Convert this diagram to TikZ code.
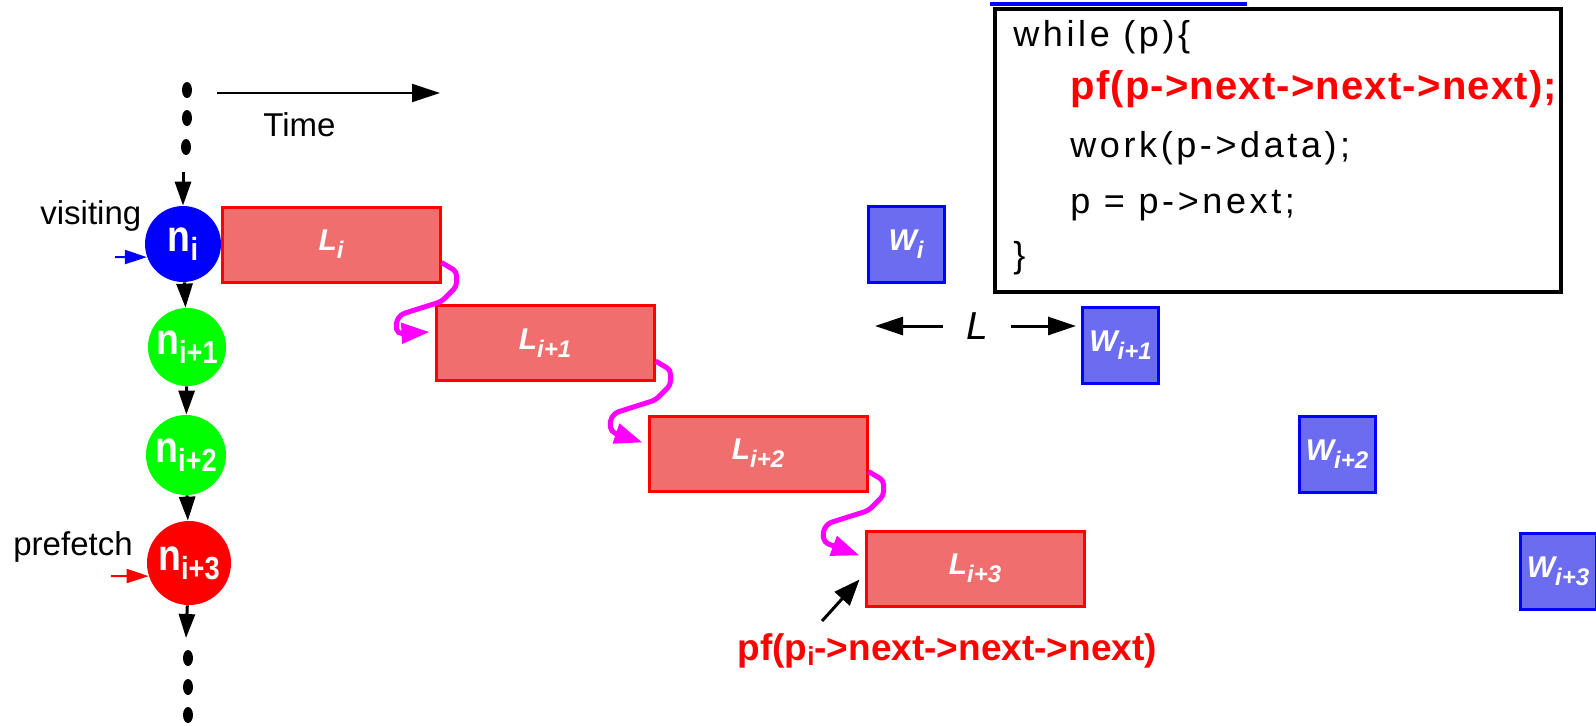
\documentclass[tikz,border=0pt]{standalone}
\usepackage{fontspec}
\setmainfont{Liberation Sans}
\newfontfamily\condfont[FakeStretch=0.85]{Liberation Sans}
\newfontfamily\codefont[LetterSpace=10]{Liberation Sans}
\newfontfamily\codeboldfont[LetterSpace=3]{Liberation Sans}
\usetikzlibrary{arrows.meta,calc}

\definecolor{lfill}{RGB}{240,110,110}
\definecolor{wfill}{RGB}{108,108,240}
\definecolor{squigcol}{RGB}{255,0,255}

% list node label n_k
\newcommand\nlab[1]{{\condfont\bfseries\fontsize{22pt}{22pt}\selectfont n\raisebox{-4.5pt}{\fontsize{16pt}{16pt}\selectfont #1}}}
% bar label L_k / W_k
\newcommand\boxlab[2]{{\bfseries\itshape\fontsize{15pt}{15pt}\selectfont #1\raisebox{-4pt}{\fontsize{12pt}{12pt}\selectfont #2}}}

\begin{document}
\begin{tikzpicture}[x=0.5pt,y=-0.5pt,
  lbl/.style={font=\fontsize{16.5pt}{18pt}\selectfont, inner sep=0, anchor=base west},
  codeline/.style={inner sep=0, anchor=base west},
  listnode/.style={circle, inner sep=0, text=white},
  latbox/.style={rectangle, draw=red, line width=1.5pt, fill=lfill,
    minimum width=109pt, minimum height=37.5pt, inner sep=0, text=white},
  workbox/.style={rectangle, draw=blue, line width=1.5pt, fill=wfill,
    minimum width=38pt, minimum height=38pt, inner sep=0, text=white},
  chainarrow/.style={line width=1.5pt, -{Triangle[length=12pt,width=8pt]}},
  timearrow/.style={line width=1pt, -{Triangle[length=14pt,width=9pt]}},
  pointarrow/.style={line width=1pt, -{Triangle[length=11pt,width=7pt]}},
  spanarrow/.style={line width=1.5pt, -{Triangle[length=14pt,width=9pt]}},
  callarrow/.style={line width=1.5pt, -{Triangle[length=13pt,width=10pt]}},
  squig/.style={draw=squigcol, line width=2.5pt, rounded corners=2pt,
    -{Triangle[length=14pt,width=10pt]}},
]
\useasboundingbox (0,0) rectangle (1596,725);

% time axis
\coordinate (ttail) at (217,93);
\coordinate (thead) at (440,93);
\draw[timearrow] (ttail) -- (thead);
\node[lbl] (timelab) at (263,136) {Time};

% linked list
\fill (187,90) ellipse [x radius=2.5pt, y radius=4pt];
\fill (187,118) ellipse [x radius=2.5pt, y radius=4pt];
\fill (186,147) ellipse [x radius=2.5pt, y radius=4pt];
\coordinate (topin) at (183,172);

\node[listnode, fill=blue, minimum size=38pt] (ni) at (183,244) {\nlab{i}};
\node[listnode, fill=green, minimum size=39pt] (ni1) at (187,347) {\nlab{i+1}};
\node[listnode, fill=green, minimum size=40pt] (ni2) at (186,455) {\nlab{i+2}};
\node[listnode, fill=red, minimum size=42pt] (ni3) at (189,563) {\nlab{i+3}};
\coordinate (botout) at (186,638);

\draw[chainarrow] (topin) -- (ni);
\draw[chainarrow] (ni) -- (ni1);
\draw[chainarrow] (ni1) -- (ni2);
\draw[chainarrow] (ni2) -- (ni3);
\draw[chainarrow] (ni3) -- (botout);

\fill (188,658) ellipse [x radius=2.5pt, y radius=4pt];
\fill (188,687) ellipse [x radius=2.5pt, y radius=4pt];
\fill (188,715) ellipse [x radius=2.5pt, y radius=4pt];

\node[lbl] (vislab) at (40,224) {visiting};
\coordinate (vtail) at (115,257);
\draw[pointarrow, blue] (vtail) -- (ni.200);

\node[lbl] (pflab) at (13,555) {prefetch};
\coordinate (ptail) at (111,576);
\draw[pointarrow, red] (ptail) -- (ni3.198);

% latency bars
\node[latbox] (Li)  at (331,244.5) {\boxlab{L}{i}};
\node[latbox] (Li1) at (545,343)   {\boxlab{L}{i+1}};
\node[latbox] (Li2) at (758,453.5) {\boxlab{L}{i+2}};
\node[latbox] (Li3) at (975,568.5) {\boxlab{L}{i+3}};

% work bars
\node[workbox] (Wi)  at (906,244.5)  {\boxlab{W}{i}};
\node[workbox] (Wi1) at (1120.5,345) {\boxlab{W}{i+1}};
\node[workbox] (Wi2) at (1337,454)   {\boxlab{W}{i+2}};
\node[workbox] (Wi3) at (1558,571)   {\boxlab{W}{i+3}};

% dependences between consecutive loads
\draw[squig] ($(Li.east)+(0,18)$) -- ++(15,9) -- ++(0,15) -- ++(-15,15)
  -- ++(-41,13) -- ++(-5,9) -- ++(2,10) -- ($(Li1.west)+(-5,-11)$);
\draw[squig] ($(Li1.east)+(0,18)$) -- ++(15,9) -- ++(0,15) -- ++(-15,15)
  -- ++(-41,13) -- ++(-5,9) -- ++(2,10) -- ($(Li2.west)+(-5,-11)$);
\draw[squig] ($(Li2.east)+(0,18)$) -- ++(15,9) -- ++(0,15) -- ++(-15,15)
  -- ++(-41,13) -- ++(-5,9) -- ++(2,10) -- ($(Li3.west)+(-5,-13)$);

% latency span
\node[inner ysep=0, inner xsep=11.5pt, font=\itshape\fontsize{19.5pt}{20pt}\selectfont] (Llab) at (977,326) {L};
\coordinate (Lleft) at (875,326);
\coordinate (Lright) at (1076,326);
\draw[spanarrow] (Llab.west) -- (Lleft);
\draw[spanarrow] (Llab.east) -- (Lright);

% prefetch issue
\node[inner sep=0, anchor=base west, text=red,
  font=\bfseries\fontsize{18.5pt}{20pt}\selectfont] (pfcall) at (737,660)
  {pf(p\raisebox{-2.5pt}{\fontsize{13pt}{13pt}\selectfont i}->next->next->next)};
\coordinate (pftail) at (822,621);
\draw[callarrow] (pftail) -- ($(Li3.west)+(-5,11)$);

% code listing
\draw[blue, line width=2pt] (990,4) -- (1247,4);
\node[draw, line width=2pt, minimum width=283pt, minimum height=141.5pt, inner sep=0] (code) at (1278,150.5) {};
\node[codeline] (c1) at (1013,46) {\codefont\fontsize{18pt}{20pt}\selectfont while (p)\{};
\node[codeline, text=red] (c2) at (1070,99) {\codeboldfont\bfseries\fontsize{20pt}{22pt}\selectfont pf(p->next->next->next);};
\node[codeline] (c3) at (1070,157) {\codefont\fontsize{18pt}{20pt}\selectfont work(p->data);};
\node[codeline] (c4) at (1070,213) {\codefont\fontsize{18pt}{20pt}\selectfont p = p->next;};
\node[codeline] (c5) at (1013,267) {\codefont\fontsize{18pt}{20pt}\selectfont \}};
\end{tikzpicture}
\end{document}
